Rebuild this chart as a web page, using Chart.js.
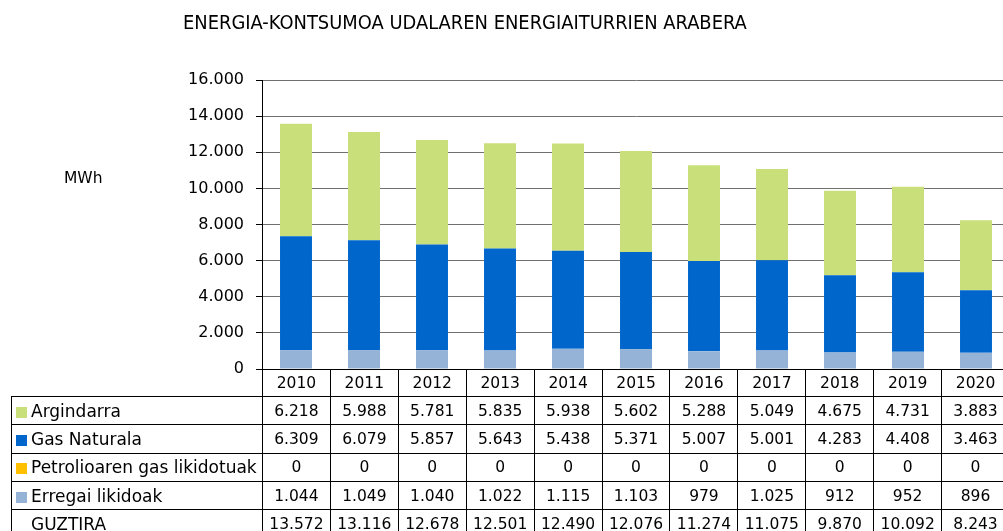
<!DOCTYPE html>
<html>
<head>
<meta charset="utf-8">
<script src="https://cdn.jsdelivr.net/npm/chart.js@4"></script>
<style>
    html, body { margin: 0; padding: 0; background: #fff; overflow: hidden; width: 1003px; height: 531px; }
    #wrap { position: relative; width: 1010px; height: 531px; font-family: 'DejaVu Sans', sans-serif; }
    #c { position: absolute; left: 0; top: 0; }
    #title { position: absolute; left: 183px; top: 11px; font-family: 'DejaVu Sans Condensed', 'DejaVu Sans', sans-serif; font-size: 19.9px; color: #000; white-space: nowrap; }
    #unit { position: absolute; left: 64px; top: 169px; font-size: 15.5px; color: #000; }
    #tbl { position: absolute; top: 369px; left: 11px; border-collapse: collapse; table-layout: fixed; font-size: 15.5px; color: #000; }
    #tbl td { border: 1px solid #000; padding: 0; text-align: center; white-space: nowrap; overflow: hidden; }
    #tbl tr.head td { height: 26px; }
    #tbl tr.row td { height: 27.3px; }
    #tbl td.lab { text-align: left; padding-left: 4px; font-size: 17px; }
    #tbl td.blank { border-top: none; border-left: none; }
    .mk { display: inline-block; width: 11px; height: 11px; margin-right: 4px; vertical-align: -1px; }
</style>
</head>
<body>
<div id="wrap">
    <canvas id="c" width="1010" height="531"></canvas>
    <div id="title">ENERGIA-KONTSUMOA UDALAREN ENERGIAITURRIEN ARABERA</div>
    <div id="unit">MWh</div>
    <table id="tbl"></table>
</div>
<script>
const years = ['2010', '2011', '2012', '2013', '2014', '2015', '2016', '2017', '2018', '2019', '2020'];
const argindarra = [6218, 5988, 5781, 5835, 5938, 5602, 5288, 5049, 4675, 4731, 3883];
const gasNaturala = [6309, 6079, 5857, 5643, 5438, 5371, 5007, 5001, 4283, 4408, 3463];
const petrolioGas = [0, 0, 0, 0, 0, 0, 0, 0, 0, 0, 0];
const erregaiLikidoak = [1044, 1049, 1040, 1022, 1115, 1103, 979, 1025, 912, 952, 896];
const guztira = [13572, 13116, 12678, 12501, 12490, 12076, 11274, 11075, 9870, 10092, 8243];
const yTicks = [0, 2000, 4000, 6000, 8000, 10000, 12000, 14000, 16000];

// Series as they appear in the table (top to bottom)
const series = [
    { label: 'Argindarra', data: argindarra, color: '#C9DF7A' },
    { label: 'Gas Naturala', data: gasNaturala, color: '#0066CC' },
    { label: 'Petrolioaren gas likidotuak', data: petrolioGas, color: '#FFC000' },
    { label: 'Erregai likidoak', data: erregaiLikidoak, color: '#95B3D7' }
];

// Format numbers with dot as thousands separator
function fmt(v) {
    return String(v).replace(/\B(?=(\d{3})+(?!\d))/g, '.');
}

// Build the data table under the chart
function buildTable(leftWidth, colWidth) {
    const tbl = document.getElementById('tbl');
    let html = '<colgroup><col style="width:' + leftWidth + 'px">';
    years.forEach(() => { html += '<col style="width:' + colWidth + 'px">'; });
    html += '</colgroup>';

    html += '<tr class="head"><td class="blank"></td>';
    years.forEach(y => { html += '<td>' + y + '</td>'; });
    html += '</tr>';

    series.forEach(s => {
        html += '<tr class="row"><td class="lab"><span class="mk" style="background:' + s.color + '"></span>' + s.label + '</td>';
        s.data.forEach(v => { html += '<td>' + fmt(v) + '</td>'; });
        html += '</tr>';
    });

    html += '<tr class="row"><td class="lab"><span class="mk"></span>GUZTIRA</td>';
    guztira.forEach(v => { html += '<td>' + fmt(v) + '</td>'; });
    html += '</tr>';
    tbl.innerHTML = html;
}

Chart.defaults.font.family = "'DejaVu Sans', sans-serif";
Chart.defaults.color = '#000';

// Stacked from bottom up, so reverse the table order
const datasets = series.slice().reverse().map(s => ({
    label: s.label,
    data: s.data,
    backgroundColor: s.color,
    borderWidth: 0,
    categoryPercentage: 1,
    barPercentage: 0.47
}));

let tableDone = false;
const tablePlugin = {
    id: 'tablePlugin',
    afterRender(chart) {
        if (tableDone) return;
        tableDone = true;
        const area = chart.chartArea;
        const colW = (area.right - area.left) / years.length;
        buildTable(area.left - 11, colW);
    }
};

new Chart(document.getElementById('c'), {
    type: 'bar',
    data: { labels: years, datasets: datasets },
    options: {
        responsive: false,
        animation: false,
        devicePixelRatio: 1,
        layout: { padding: { left: 0, right: 0, top: 80, bottom: 162 } },
        plugins: {
            legend: { display: false },
            tooltip: { enabled: false },
            title: { display: false }
        },
        scales: {
            x: {
                stacked: true,
                display: false
            },
            y: {
                stacked: true,
                min: 0,
                max: 16000,
                afterFit(scale) { scale.width = 262; },
                afterBuildTicks(scale) { scale.ticks = yTicks.map(v => ({ value: v })); },
                ticks: {
                    font: { size: 16 },
                    padding: 12,
                    callback: v => fmt(v)
                },
                grid: {
                    color: '#707070',
                    tickColor: '#000',
                    tickLength: 6
                },
                border: { color: '#000' }
            }
        }
    },
    plugins: [tablePlugin]
});
</script>
</body>
</html>
